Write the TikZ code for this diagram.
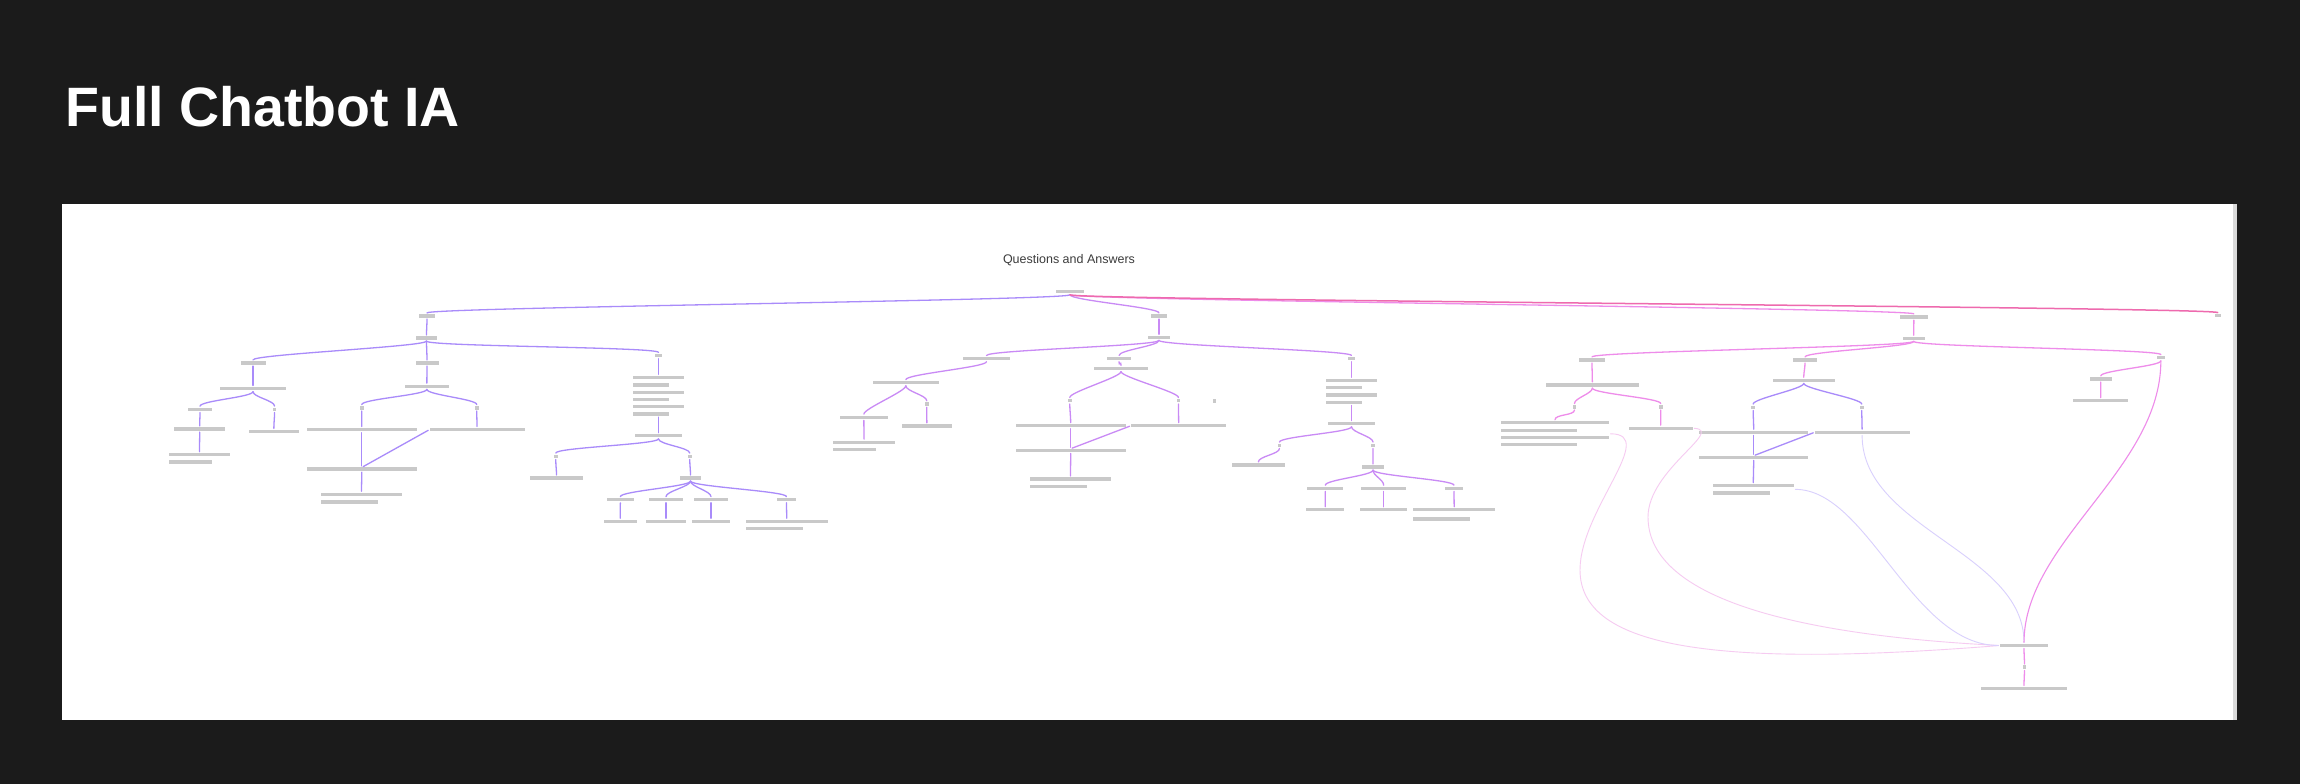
\documentclass[tikz,border=0pt]{standalone}
\usepackage{fontspec}
\setmainfont{Liberation Sans}
\usetikzlibrary{fit}
\definecolor{qaBack}{HTML}{1B1B1B}
\definecolor{qaEdge}{HTML}{DADADA}
\definecolor{qaBar}{HTML}{C9C9C9}
\definecolor{qaInk}{HTML}{3C3C3C}
\definecolor{qaViolet}{HTML}{A98BFA}
\definecolor{qaLilac}{HTML}{C98AF5}
\definecolor{qaPink}{HTML}{EE8CEA}
\definecolor{qaHot}{HTML}{EE6AAE}
\definecolor{qaPale}{HTML}{F6CBF1}
\definecolor{qaLav}{HTML}{D9D0FD}

\begin{document}
\begin{tikzpicture}[x=1pt,y=-1pt,
  bar/.style={rectangle, fill=qaBar, inner sep=0pt, outer sep=0pt, minimum height=3.2pt, minimum width=#1, anchor=west},
  speck/.style={bar=3.5pt, minimum height=3.5pt},
  block/.style={inner sep=0pt, outer sep=0pt},
  link/.style={line width=1.3pt, line cap=round, shorten <=1.5pt, shorten >=1.5pt,
    to path={.. controls +(0,7) and +(0,-7) .. (\tikztotarget)}},
  vlink/.style={link, draw=qaViolet},
  llink/.style={link, draw=qaLilac},
  plink/.style={link, draw=qaPink},
  far/.style={line width=0.9pt, line cap=round, shorten <=1.5pt, shorten >=1.5pt}]
\useasboundingbox (0,0) rectangle (2300,784);
\fill[qaBack] (0,0) rectangle (2300,784);
\fill[white] (62,204) rectangle (2237,720);
\fill[qaEdge] (2233,204) rectangle (2237,720);
\node[font={\fontsize{55.5}{60}\selectfont\bfseries}, text=white, anchor=base west, inner sep=0pt] (title) at (65,126) {Full Chatbot IA};
\node[font={\fontsize{12.5}{15}\selectfont}, text=qaInk, anchor=base, inner sep=0pt] (qa) at (1069,263.3) {Questions and Answers};
\node[bar=28pt] (root) at (1056,291.7) {};
% left branch
\node[bar=16pt] (a1) at (419,316) {};
\node[bar=21pt] (a2) at (416,338) {};
\node[bar=25pt] (a3a) at (240.5,363) {};
\node[bar=23pt] (a3b) at (415.5,363) {};
\node[bar=7pt] (a3c) at (655,355.5) {};
\node[bar=66pt] (a4a) at (220,388.5) {};
\node[bar=44.5pt] (a4b) at (404.6,386.3) {};
\node[bar=24pt] (a5a) at (188,409.3) {};
\node[speck] (a5b) at (272.8,409.3) {};
\node[speck] (a5c) at (360,407.8) {};
\node[speck] (a5d) at (475,407.8) {};
\node[bar=51.4pt] (a6a) at (174,429) {};
\node[bar=49.7pt] (a6b) at (249,431.5) {};
\node[bar=109.6pt] (a6c) at (307,429.6) {};
\node[bar=95pt] (a6d) at (429.5,429.6) {};
\node[bar=61pt] (a7a1) at (169,454.7) {};
\node[bar=43pt] (a7a2) at (169,462) {};
\node[block, fit=(a7a1)(a7a2)] (a7a) {};
\node[bar=109.6pt] (a7c) at (307,469) {};
\node[bar=81pt] (a8c1) at (321,494.3) {};
\node[bar=57pt] (a8c2) at (321,502) {};
\node[block, fit=(a8c1)(a8c2)] (a8c) {};
\node[bar=51pt] (a4c1) at (633,377.5) {};
\node[bar=36pt] (a4c2) at (633,385) {};
\node[bar=51pt] (a4c3) at (633,392.3) {};
\node[bar=36pt] (a4c4) at (633,399.5) {};
\node[bar=51pt] (a4c5) at (633,406.8) {};
\node[bar=36pt] (a4c6) at (633,414) {};
\node[block, fit=(a4c1)(a4c6)] (a4c) {};
\node[bar=47pt] (a5e) at (635,435.8) {};
\node[speck] (a6e) at (554,456.3) {};
\node[speck] (a6f) at (688,456.3) {};
\node[bar=53pt] (a7e) at (530,478) {};
\node[bar=21pt] (a7f) at (680,478) {};
\node[bar=27.3pt] (a8e1) at (606.7,499.7) {};
\node[bar=34pt] (a8e2) at (649,499.7) {};
\node[bar=34pt] (a8e3) at (694,499.7) {};
\node[bar=19pt] (a8e4) at (777,499.7) {};
\node[bar=33pt] (a9e1) at (603.7,521.3) {};
\node[bar=40.6pt] (a9e2) at (645.7,521.3) {};
\node[bar=38pt] (a9e3) at (692,521.3) {};
\node[bar=82pt] (a9e4a) at (745.7,521.3) {};
\node[bar=57pt] (a9e4b) at (745.7,528.6) {};
\node[block, fit=(a9e4a)(a9e4b)] (a9e4) {};
% middle branch
\node[bar=16pt] (m1) at (1151,316) {};
\node[bar=22pt] (m2) at (1148,337.3) {};
\node[bar=47pt] (m3a) at (963,358.6) {};
\node[bar=24pt] (m3b) at (1107,358.6) {};
\node[bar=7pt] (m3c) at (1348,358.6) {};
\node[bar=66.3pt] (m4a) at (872.7,382.7) {};
\node[bar=54pt] (m4b) at (1094,368.5) {};
\node[bar=47.7pt] (m5a) at (840,417.2) {};
\node[speck] (m5b) at (925,404) {};
\node[bar=61.4pt] (m6a1) at (833.3,442.2) {};
\node[bar=42.7pt] (m6a2) at (833.3,449.2) {};
\node[block, fit=(m6a1)(m6a2)] (m6a) {};
\node[bar=50.3pt] (m6b) at (901.7,426) {};
\node[speck] (m5c) at (1068,400.7) {};
\node[speck] (m5d) at (1176.7,400.7) {};
\node[speck] (mdot) at (1212.7,401) {};
\node[bar=110pt] (m6c) at (1015.7,425.7) {};
\node[bar=95.3pt] (m6d) at (1131,425.7) {};
\node[bar=110pt] (m7c) at (1015.7,450.3) {};
\node[bar=81.6pt] (m8c1) at (1029.7,479) {};
\node[bar=57pt] (m8c2) at (1029.7,486.3) {};
\node[block, fit=(m8c1)(m8c2)] (m8c) {};
\node[bar=51pt] (m4c1) at (1326,380.3) {};
\node[bar=35.7pt] (m4c2) at (1326,387.7) {};
\node[bar=51pt] (m4c3) at (1326,395) {};
\node[bar=35.7pt] (m4c4) at (1326,402.3) {};
\node[block, fit=(m4c1)(m4c4)] (m4c) {};
\node[bar=47.6pt] (m5e) at (1327.7,423.7) {};
\node[speck] (m6e) at (1277.7,445.3) {};
\node[speck] (m6f) at (1371.3,445.3) {};
\node[bar=52.7pt] (m7e) at (1232,465) {};
\node[bar=21.4pt] (m7f) at (1362.3,467) {};
\node[bar=36pt] (m8f1) at (1307.3,488.3) {};
\node[bar=44.7pt] (m8f2) at (1361.3,488.3) {};
\node[bar=18.6pt] (m8f3) at (1444.7,488.3) {};
\node[bar=37.7pt] (m9f1) at (1306.3,509.8) {};
\node[bar=47.3pt] (m9f2) at (1360,509.8) {};
\node[bar=81.7pt] (m9f3a) at (1413.3,509.8) {};
\node[bar=57pt] (m9f3b) at (1413.3,519) {};
\node[block, fit=(m9f3a)(m9f3b)] (m9f3) {};
% right branch
\node[bar=28.7pt] (r1) at (1899.5,317) {};
\node[bar=22.2pt] (r2) at (1902.6,338.3) {};
\node[bar=26pt] (r3a) at (1579,360) {};
\node[bar=24pt] (r3b) at (1793,360) {};
\node[bar=7.7pt] (r3c) at (2157,357.7) {};
\node[bar=92.7pt] (r4a) at (1546,385) {};
\node[bar=62.5pt] (r4b) at (1772.5,380.3) {};
\node[bar=21.5pt] (r4d) at (2090,379) {};
\node[bar=55.4pt] (r5f) at (2073,400.7) {};
\node[speck] (r5a) at (1572.7,406.8) {};
\node[speck] (r5b) at (1659,406.8) {};
\node[bar=108pt] (r6a1) at (1501,422.8) {};
\node[bar=75.7pt] (r6a2) at (1501,430.2) {};
\node[bar=108pt] (r6a3) at (1501,437.5) {};
\node[bar=75.7pt] (r6a4) at (1501,444.8) {};
\node[block, fit=(r6a1)(r6a4)] (r6a) {};
\node[bar=64pt] (r6b) at (1628.7,428.2) {};
\node[speck] (r5c) at (1751.4,407.3) {};
\node[speck] (r5d) at (1860,407.3) {};
\node[bar=109.4pt] (r6c) at (1699,432.3) {};
\node[bar=95pt] (r6d) at (1814.6,432.3) {};
\node[bar=109.4pt] (r7c) at (1699,457.3) {};
\node[bar=81pt] (r8c1) at (1712.8,485.7) {};
\node[bar=57.4pt] (r8c2) at (1712.8,493) {};
\node[block, fit=(r8c1)(r8c2)] (r8c) {};
\node[bar=6.5pt] (fr) at (2214.5,315.7) {};
\node[bar=48pt] (b1) at (2000,645.5) {};
\node[speck] (b2) at (2022.7,667.2) {};
\node[bar=86pt] (b3) at (1981,688.5) {};
\coordinate (c1via) at (1580,570);
\coordinate (c2via) at (1648,517);
% connectors
\draw[vlink] (root.south) to (a1.north);
\draw[llink] (root.south) to (m1.north);
\draw[plink] (root.south) to (r1.north);
\draw[link, draw=qaHot, line width=1.5pt] (root.south) to (fr.north);
\draw[vlink] (a1.south) to (a2.north);
\draw[vlink] (a2.south) to (a3a.north);
\draw[vlink] (a2.south) to (a3b.north);
\draw[vlink] (a2.south) to (a3c.north);
\draw[vlink] (a3a.south) to (a4a.north);
\draw[vlink] (a4a.south) to (a5a.north);
\draw[vlink] (a4a.south) to (a5b.north);
\draw[vlink] (a5a.south) to (a6a.north);
\draw[vlink] (a6a.south) to (a7a.north);
\draw[vlink] (a5b.south) to (a6b.north);
\draw[vlink] (a3b.south) to (a4b.north);
\draw[vlink] (a4b.south) to (a5c.north);
\draw[vlink] (a4b.south) to (a5d.north);
\draw[vlink] (a5c.south) to (a6c.north);
\draw[vlink] (a6c.south) to (a7c.north);
\draw[vlink] (a6d.west) -- (a7c.north);
\draw[vlink] (a5d.south) to (a6d.north);
\draw[vlink] (a7c.south) to (a8c.north);
\draw[vlink] (a3c.south) to (a4c.north);
\draw[vlink] (a4c.south) to (a5e.north);
\draw[vlink] (a5e.south) to (a6e.north);
\draw[vlink] (a5e.south) to (a6f.north);
\draw[vlink] (a6e.south) to (a7e.north);
\draw[vlink] (a6f.south) to (a7f.north);
\draw[vlink] (a7f.south) to (a8e1.north);
\draw[vlink] (a7f.south) to (a8e2.north);
\draw[vlink] (a7f.south) to (a8e3.north);
\draw[vlink] (a7f.south) to (a8e4.north);
\draw[vlink] (a8e1.south) to (a9e1.north);
\draw[vlink] (a8e2.south) to (a9e2.north);
\draw[vlink] (a8e3.south) to (a9e3.north);
\draw[vlink] (a8e4.south) to (a9e4.north);
\draw[llink] (m1.south) to (m2.north);
\draw[llink] (m2.south) to (m3a.north);
\draw[llink] (m2.south) to (m3b.north);
\draw[llink] (m2.south) to (m3c.north);
\draw[llink] (m3a.south) to (m4a.north);
\draw[llink] (m3b.south) to (m4b.north);
\draw[llink] (m4a.south) to (m5a.north);
\draw[llink] (m4a.south) to (m5b.north);
\draw[llink] (m5a.south) to (m6a.north);
\draw[llink] (m5b.south) to (m6b.north);
\draw[llink] (m4b.south) to (m5c.north);
\draw[llink] (m4b.south) to (m5d.north);
\draw[llink] (m5c.south) to (m6c.north);
\draw[llink] (m6c.south) to (m7c.north);
\draw[llink] (m6d.west) -- (m7c.north);
\draw[llink] (m5d.south) to (m6d.north);
\draw[llink] (m7c.south) to (m8c.north);
\draw[llink] (m3c.south) to (m4c.north);
\draw[llink] (m4c.south) to (m5e.north);
\draw[llink] (m5e.south) to (m6e.north);
\draw[llink] (m5e.south) to (m6f.north);
\draw[llink] (m6e.south) to (m7e.north);
\draw[llink] (m6f.south) to (m7f.north);
\draw[llink] (m7f.south) to (m8f1.north);
\draw[llink] (m7f.south) to (m8f2.north);
\draw[llink] (m7f.south) to (m8f3.north);
\draw[llink] (m8f1.south) to (m9f1.north);
\draw[llink] (m8f2.south) to (m9f2.north);
\draw[llink] (m8f3.south) to (m9f3.north);
\draw[plink] (r1.south) to (r2.north);
\draw[plink] (r2.south) to (r3a.north);
\draw[plink] (r2.south) to (r3b.north);
\draw[plink] (r2.south) to (r3c.north);
\draw[plink] (r3a.south) to (r4a.north);
\draw[plink] (r4a.south) to (r5a.north);
\draw[plink] (r4a.south) to (r5b.north);
\draw[plink] (r5a.south) to (r6a.north);
\draw[plink] (r5b.south) to (r6b.north);
\draw[plink] (r3b.south) to (r4b.north);
\draw[vlink] (r4b.south) to (r5c.north);
\draw[vlink] (r4b.south) to (r5d.north);
\draw[vlink] (r5c.south) to (r6c.north);
\draw[vlink] (r6c.south) to (r7c.north);
\draw[vlink] (r6d.west) -- (r7c.north);
\draw[vlink] (r5d.south) to (r6d.north);
\draw[vlink] (r7c.south) to (r8c.north);
\draw[plink] (r3c.south) to (r4d.north);
\draw[plink] (r4d.south) to (r5f.north);
\draw[plink] (b1.south) to (b2.north);
\draw[plink] (b2.south) to (b3.north);
\draw[far, draw=qaPale] (r6a.east) .. controls +(50,0) and +(0,-60) .. (c1via) .. controls +(0,80) and +(-278,22) .. (b1.west);
\draw[far, draw=qaPale] (r6b.east) .. controls +(32,2) and +(0,-47) .. (c2via) .. controls +(0,83) and +(-198,-10) .. (b1.west);
\draw[far, draw=qaLav] (r8c.east) .. controls +(74,0) and +(-88,0) .. (b1.west);
\draw[far, draw=qaLav] (r6d.south) .. controls +(0,95) and +(0,-92) .. (b1.north);
\draw[far, draw=qaPink, line width=1.1pt] (r3c.south) .. controls +(0,110) and +(0,-102) .. (b1.north);
\end{tikzpicture}
\end{document}
